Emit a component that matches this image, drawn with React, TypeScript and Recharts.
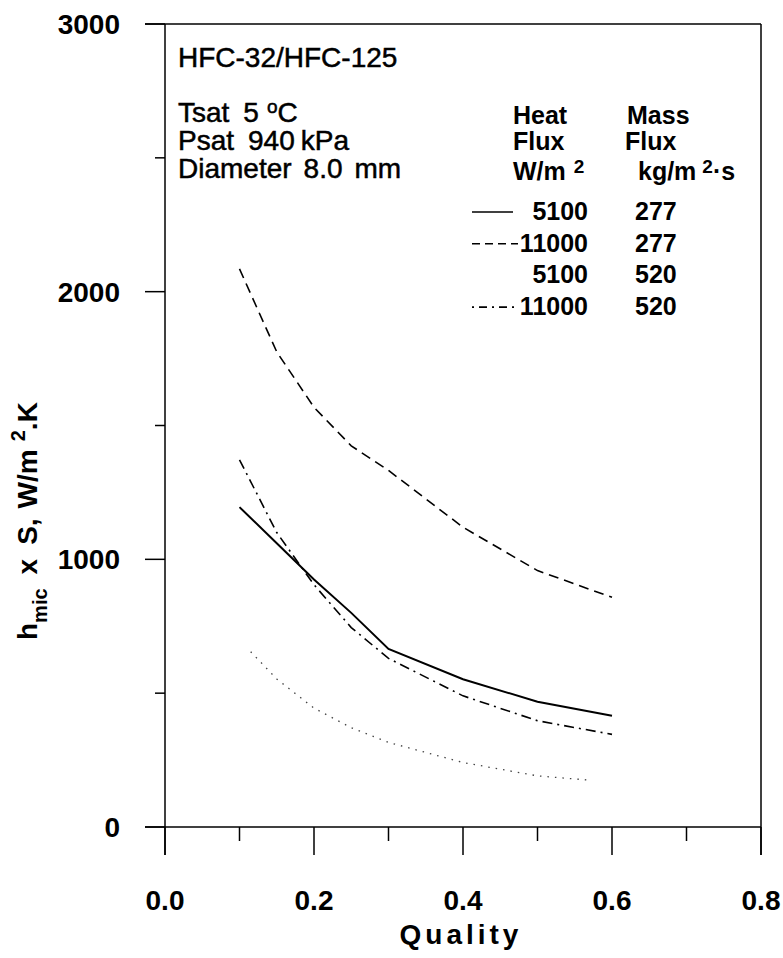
import { CartesianGrid, Customized, Line, LineChart, XAxis, YAxis } from 'recharts';

const W = 783;
const H = 958;
const PLOT = { left: 165, top: 24, right: 761, bottom: 827 };
const FONT = '"Liberation Sans", Arial, Helvetica, sans-serif';

// quality (x) and h_mic x S (W/m2.K)
const quality = [0.1, 0.15, 0.2, 0.25, 0.3, 0.4, 0.5, 0.6];
const h5100g277 = [1195, 1060, 925, 800, 665, 552, 468, 416];
const h11000g277 = [2085, 1775, 1568, 1424, 1332, 1120, 958, 858];
const h11000g520 = [1372, 1100, 905, 745, 630, 490, 397, 346];
const qualityLow = [0.115, 0.15, 0.2, 0.25, 0.3, 0.4, 0.5, 0.57];
const h5100g520 = [655, 553, 444, 371, 316, 241, 191, 175];

const xTicks = [0, 0.1, 0.2, 0.3, 0.4, 0.5, 0.6, 0.7, 0.8];
const yTicks = [0, 500, 1000, 1500, 2000, 2500, 3000];

const legendRows = [
  { heat: '5100', mass: '277', dash: undefined as string | undefined, show: true },
  { heat: '11000', mass: '277', dash: '8 5', show: true },
  { heat: '5100', mass: '520', dash: '1.5 6', show: false },
  { heat: '11000', mass: '520', dash: '2 5 8 5', show: true },
];

const rows = (xs: number[], ys: number[]) => xs.map((q, i) => ({ q, h: ys[i] }));

function XTick({ x, y, payload }: any) {
  const v = payload.value as number;
  const major = Math.round(v * 10) % 2 === 0;
  return (
    <g>
      <line x1={x} x2={x} y1={y} y2={y + (major ? 28 : 14)} stroke="#000" strokeWidth={1.5} />
      {major && (
        <text x={x} y={y + 83} textAnchor="middle" fontSize={28} fontWeight="bold" fill="#000">
          {v.toFixed(1)}
        </text>
      )}
    </g>
  );
}

function YTick({ x, y, payload }: any) {
  const v = payload.value as number;
  const major = v % 1000 === 0;
  return (
    <g>
      <line x1={x - (major ? 20 : 10)} x2={x} y1={y} y2={y} stroke="#000" strokeWidth={1.5} />
      {major && (
        <text x={x - 45} y={y + 10} textAnchor="end" fontSize={28} fontWeight="bold" fill="#000">
          {v}
        </text>
      )}
    </g>
  );
}

function Overlay() {
  const ax = { stroke: '#000', strokeWidth: 1.5 };
  return (
    <g fontFamily={FONT} fill="#000">
      {/* frame */}
      <line x1={PLOT.left - 20} x2={PLOT.right} y1={PLOT.top} y2={PLOT.top} {...ax} />
      <line x1={PLOT.right} x2={PLOT.right} y1={PLOT.top} y2={PLOT.bottom + 28} {...ax} />
      <line x1={PLOT.left} x2={PLOT.left} y1={PLOT.top} y2={PLOT.bottom + 28} {...ax} />
      <line x1={PLOT.left - 20} x2={PLOT.right} y1={PLOT.bottom} y2={PLOT.bottom} {...ax} />

      {/* axis titles */}
      <text x={461} y={944} textAnchor="middle" fontSize={28} fontWeight="bold" letterSpacing={4}>
        Quality
      </text>
      <text x={37} y={640} transform="rotate(-90 37 640)" fontSize={28} fontWeight="bold">
        <tspan>h</tspan>
        <tspan fontSize={20} dy={10}>mic</tspan>
        <tspan dy={-10} dx={14}>x</tspan>
        <tspan dx={14}>S,</tspan>
        <tspan dx={10}>W/m</tspan>
        <tspan fontSize={20} dy={-12} dx={8}>2</tspan>
        <tspan dy={12}>.K</tspan>
      </text>

      {/* conditions */}
      <g fontSize={28} stroke="#000" strokeWidth={0.5}>
        <text x={178} y={67}>HFC-32/HFC-125</text>
        <text x={178} y={122}>
          <tspan>Tsat</tspan>
          <tspan dx={14}>5</tspan>
          <tspan dx={8} fontSize={19} dy={-9}>o</tspan>
          <tspan dy={9}>C</tspan>
        </text>
        <text x={178} y={150}>
          <tspan>Psat</tspan>
          <tspan dx={14}>940</tspan>
          <tspan dx={6}>kPa</tspan>
        </text>
        <text x={178} y={178}>
          <tspan>Diameter</tspan>
          <tspan dx={12}>8.0</tspan>
          <tspan dx={12}>mm</tspan>
        </text>
      </g>

      {/* legend */}
      <g fontSize={25} fontWeight="bold">
        <text x={513} y={124}>Heat</text>
        <text x={513} y={150}>Flux</text>
        <text x={513} y={180}>
          W/m<tspan dx={8} fontSize={19} dy={-7}>2</tspan>
        </text>
        <text x={627} y={124}>Mass</text>
        <text x={625} y={150}>Flux</text>
        <text x={638} y={180}>
          kg/m<tspan dx={6} fontSize={19} dy={-7}>2</tspan>
          <tspan dy={7}>·s</tspan>
        </text>
        {legendRows.map((r, i) => {
          const by = 220 + i * 31.7;
          return (
            <g key={i}>
              {r.show && (
                <line x1={472} x2={r.dash ? 518 : 513} y1={by - 8} y2={by - 8} stroke="#000" strokeWidth={1.6} strokeDasharray={r.dash} />
              )}
              <text x={588} y={by} textAnchor="end">{r.heat}</text>
              <text x={635} y={by}>{r.mass}</text>
            </g>
          );
        })}
      </g>
    </g>
  );
}

export default function App() {
  return (
    <div style={{ position: 'absolute', left: 0, top: 0, width: W, height: H, background: '#fff' }}>
      <LineChart
        width={W}
        height={H}
        margin={{ top: PLOT.top, right: W - PLOT.right, bottom: 0, left: 0 }}
        style={{ fontFamily: FONT }}
      >
        <CartesianGrid stroke="none" />
        <XAxis
          type="number"
          dataKey="q"
          domain={[0, 0.8]}
          ticks={xTicks}
          height={H - PLOT.bottom}
          axisLine={false}
          tickLine={false}
          tickSize={0}
          tickMargin={0}
          tick={<XTick />}
          interval={0}
        />
        <YAxis
          type="number"
          dataKey="h"
          domain={[0, 3000]}
          ticks={yTicks}
          width={PLOT.left}
          axisLine={false}
          tickLine={false}
          tickSize={0}
          tickMargin={0}
          tick={<YTick />}
          interval={0}
        />
        <Line data={rows(quality, h5100g277)} dataKey="h" type="linear" stroke="#000" strokeWidth={2} dot={false} isAnimationActive={false} />
        <Line data={rows(quality, h11000g277)} dataKey="h" type="linear" stroke="#000" strokeWidth={1.6} strokeDasharray="10 6" dot={false} isAnimationActive={false} />
        <Line data={rows(qualityLow, h5100g520)} dataKey="h" type="linear" stroke="#444" strokeWidth={1.3} strokeDasharray="1.5 6" dot={false} isAnimationActive={false} />
        <Line data={rows(quality, h11000g520)} dataKey="h" type="linear" stroke="#000" strokeWidth={1.6} strokeDasharray="10 5 2 5" dot={false} isAnimationActive={false} />
        <Customized component={Overlay} />
      </LineChart>
    </div>
  );
}
